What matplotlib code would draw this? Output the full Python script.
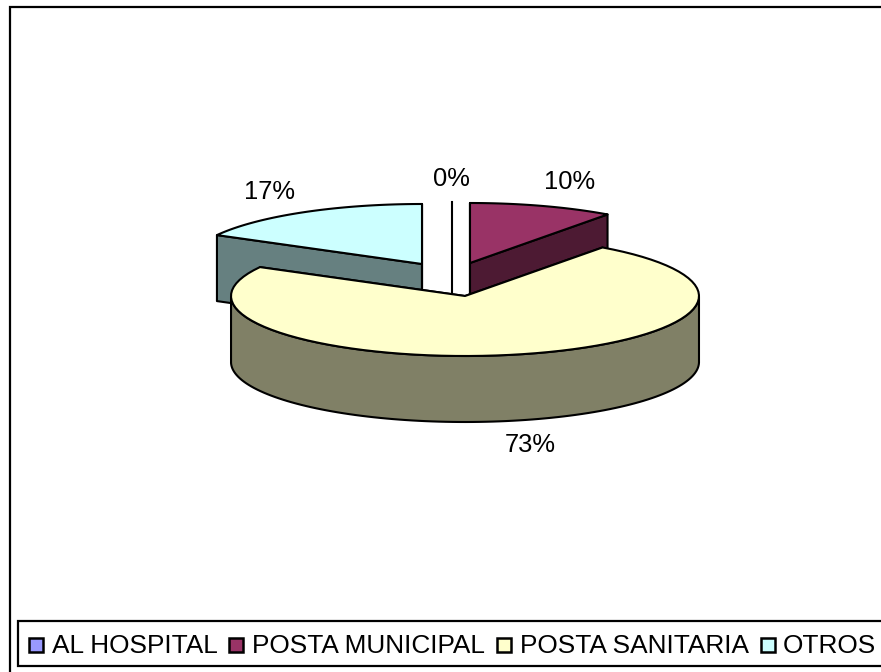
import numpy as np
import matplotlib
matplotlib.use("Agg")
import matplotlib.pyplot as plt
from matplotlib.patches import Polygon, Rectangle

categories = ["AL HOSPITAL", "POSTA MUNICIPAL", "POSTA SANITARIA", "OTROS"]
values = [0, 10, 73, 17]
labels = ["0%", "10%", "73%", "17%"]
top_colors = ["#9999FF", "#993366", "#FFFFCC", "#CCFFFF"]
side_colors = ["#4D4D80", "#4D1A33", "#808066", "#668080"]

W, H = 881, 672
RX, RY, DEPTH = 234, 60, 66
# where each slice's apex sits after exploding, pixels
apex = [(452, 262), (470, 263), (465, 296), (422, 264)]
label_pos = [(451, 179), (570, 182), (530, 445), (269, 192)]
legend_x = [29, 229, 497, 761]
legend_text_x = [52, 252, 520, 783]

plt.rcParams["font.family"] = ["Liberation Sans", "DejaVu Sans"]
fig = plt.figure(figsize=(W / 100, H / 100), dpi=100)
ax = fig.add_axes([0, 0, 1, 1])
ax.set_xlim(0, W)
ax.set_ylim(H, 0)
ax.axis("off")

# outer frame and legend box, both run off the right and bottom of the picture
ax.add_patch(Rectangle((10, 7), 900, 700, fc="white", ec="black", lw=1.6, zorder=0))
ax.add_patch(Rectangle((18, 621), 900, 45, fc="white", ec="black", lw=1.6, zorder=6))


def rim(cx, cy, a0, a1, n=80):
    t = np.radians(np.linspace(a0, a1, n))
    return cx + RX * np.cos(t), cy - RY * np.sin(t)


def draw_slice(i, a0, a1, z):
    cx, cy = apex[i]
    x, y = rim(cx, cy, a0, a1)
    st = dict(ec="black", lw=1.5, joinstyle="round", zorder=z)
    # wall along the start and end radii
    for a in (a0, a1):
        ex = cx + RX * np.cos(np.radians(a))
        ey = cy - RY * np.sin(np.radians(a))
        pts = [(cx, cy), (ex, ey), (ex, ey + DEPTH), (cx, cy + DEPTH)]
        ax.add_patch(Polygon(pts, fc=side_colors[i], **st))
    # outer wall, only the part facing the viewer
    lo, hi = sorted((a0, a1))
    t = np.linspace(lo, hi, 160)
    t = t[np.sin(np.radians(t)) <= 0.0]
    if len(t):
        xs = cx + RX * np.cos(np.radians(t))
        ys = cy - RY * np.sin(np.radians(t))
        pts = list(zip(xs, ys)) + list(zip(xs[::-1], ys[::-1] + DEPTH))
        ax.add_patch(Polygon(pts, fc=side_colors[i], **st))
    top = [(cx, cy)] + list(zip(x, y))
    ax.add_patch(Polygon(top, fc=top_colors[i], **st))


# clockwise from 12 o'clock, yellow drawn last since it is in front
angles = 90 - np.cumsum([0] + values) * 3.6
draw_slice(3, angles[3], angles[4], 2)
draw_slice(1, angles[1], angles[2], 2)
ax.plot([apex[0][0], apex[0][0]], [apex[0][1] - RY, apex[0][1] + 31], color="black", lw=1.5, zorder=2)
draw_slice(2, angles[2], angles[3], 3)

for lab, (x, y) in zip(labels, label_pos):
    ax.text(x, y, lab, ha="center", va="center", fontsize=18.4, color="black", zorder=7)

for i, cat in enumerate(categories):
    ax.add_patch(Rectangle((legend_x[i], 638), 14, 14, fc=top_colors[i], ec="black", lw=1.8, zorder=7))
    ax.text(legend_text_x[i], 653, cat, ha="left", va="baseline", fontsize=18.9, color="black", zorder=7)

fig.savefig("out.png", dpi=100)
